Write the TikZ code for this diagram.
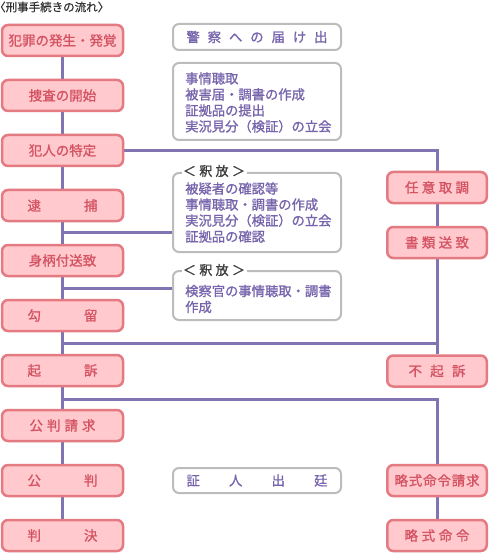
\documentclass[tikz,border=0pt]{standalone}
\usepackage{fontspec}
\setmainfont{Noto Sans CJK JP}
\newfontfamily\jpmed{Noto Sans CJK JP}[FakeBold=1.2]
\newfontfamily\jpsemi{Noto Sans CJK JP}[FakeBold=0.7]
\usetikzlibrary{backgrounds}
\definecolor{pinkfill}{RGB}{255,201,205}
\definecolor{pinkline}{RGB}{228,122,130}
\definecolor{pinktext}{RGB}{212,84,100}
\definecolor{grayline}{RGB}{188,188,188}
\definecolor{purpletext}{RGB}{118,100,172}
\definecolor{connline}{RGB}{130,115,178}
\definecolor{titletext}{RGB}{50,50,50}
\definecolor{labeltext}{RGB}{60,60,60}
\begin{document}
\begin{tikzpicture}[x=1pt,y=-1pt,
  pinkbox/.style={draw=pinkline, fill=pinkfill, line width=2.5pt, rounded corners=6pt,
    minimum width=121pt, minimum height=31pt, inner sep=0pt, text=pinktext,
    font=\jpmed\fontsize{13.5}{16}\selectfont},
  rbox/.style={pinkbox, minimum width=99.5pt},
  graybox/.style={draw=grayline, line width=2pt, rounded corners=6pt,
    minimum width=168pt, inner sep=0pt, fill=white},
  graytext/.style={text=purpletext, font=\jpmed\fontsize{13.3}{16}\selectfont,
    align=left, inner sep=0pt, anchor=west},
  relabel/.style={fill=white, inner sep=1.5pt, text=labeltext,
    font=\jpmed\fontsize{13}{13}\selectfont},
  conn/.style={draw=connline, line width=3pt}
  ]
\useasboundingbox (0,0) rectangle (490,553);

% title
\node[anchor=west, inner sep=0pt, text=titletext, font=\jpsemi\fontsize{11.5}{12}\selectfont] (title) at (-6,7) {〈刑事手続きの流れ〉};

% left column
\node[pinkbox] (L1) at (62.5,40.5) {犯罪の発生・発覚};
\node[pinkbox] (L2) at (62.5,95.5) {捜査の開始};
\node[pinkbox] (L3) at (62.5,150.5) {犯人の特定};
\node[pinkbox] (L4) at (62.5,205.5) {\makebox[70pt][s]{逮\hfill 捕}};
\node[pinkbox] (L5) at (62.5,260.5) {身柄付送致};
\node[pinkbox] (L6) at (62.5,315.5) {\makebox[70pt][s]{勾\hfill 留}};
\node[pinkbox] (L7) at (62.5,370.5) {\makebox[70pt][s]{起\hfill 訴}};
\node[pinkbox] (L8) at (62.5,425.5) {\makebox[66pt][s]{公\hfill 判\hfill 請\hfill 求}};
\node[pinkbox] (L9) at (62.5,480.5) {\makebox[70pt][s]{公\hfill 判}};
\node[pinkbox] (L10) at (62.5,535.5) {\makebox[70pt][s]{判\hfill 決}};

% right column
\node[rbox] (R1) at (437,187.5) {\makebox[64pt][s]{任\hfill 意\hfill 取\hfill 調}};
\node[rbox] (R2) at (437,242.5) {\makebox[64pt][s]{書\hfill 類\hfill 送\hfill 致}};
\node[rbox] (R3) at (437,371) {\makebox[57pt][s]{不\hfill 起\hfill 訴}};
\node[rbox] (R4) at (437,480.5) {\makebox[85pt][s]{略\hfill 式\hfill 命\hfill 令\hfill 請\hfill 求}};
\node[rbox] (R5) at (437,535.5) {\makebox[65pt][s]{略\hfill 式\hfill 命\hfill 令}};

% middle gray boxes
\node[graybox, minimum height=26pt, text=purpletext, font=\jpmed\fontsize{13.3}{16}\selectfont] (G1) at (257,37) {\makebox[141pt][s]{警\hfill 察\hfill へ\hfill の\hfill 届\hfill け\hfill 出}};
\node[graybox, minimum height=77pt] (G2) at (257,101.5) {};
\node[graytext] (T2) at (185,102.5) {事情聴取\\被害届・調書の作成\\証拠品の提出\\実況見分（検証）の立会};
\node[graybox, minimum height=79pt] (G3) at (257,212.5) {};
\node[graytext] (T3) at (185,212.5) {被疑者の確認等\\事情聴取・調書の作成\\実況見分（検証）の立会\\証拠品の確認};
\node[relabel] (K1) at (214,171) {\makebox[62pt][s]{＜\hfill 釈\hfill 放\hfill ＞}};
\node[graybox, minimum height=49pt] (G4) at (257,295.5) {};
\node[graytext] (T4) at (185,299) {検察官の事情聴取・調書\\作成};
\node[relabel] (K2) at (214,270) {\makebox[62pt][s]{＜\hfill 釈\hfill 放\hfill ＞}};
\node[graybox, minimum height=25pt, text=purpletext, font=\jpmed\fontsize{13.3}{16}\selectfont] (G5) at (257,480.5) {\makebox[141pt][s]{証\hfill 人\hfill 出\hfill 廷}};

% junction points
\coordinate (j1) at (62.5,343);
\coordinate (j2) at (437,343);
\coordinate (j3) at (62.5,399);
\coordinate (j4) at (62.5,232);
\coordinate (j5) at (62.5,288);

\begin{scope}[on background layer]
  \foreach \a/\b in {L1/L2,L2/L3,L3/L4,L4/L5,L5/L6,L6/L7,L7/L8,L8/L9,L9/L10}
    \draw[conn] (\a.south) -- (\b.north);
  \draw[conn] (L3.east) -| (R1.north);
  \draw[conn] (R1.south) -- (R2.north);
  \draw[conn] (R2.south) -- (R3.north);
  \draw[conn] (j1) -- (j2);
  \draw[conn] (j3) -| (R4.north);
  \draw[conn] (R4.south) -- (R5.north);
  \draw[conn] (j4) -- (j4 -| G3.west);
  \draw[conn] (j5) -- (j5 -| G4.west);
\end{scope}
\end{tikzpicture}
\end{document}
